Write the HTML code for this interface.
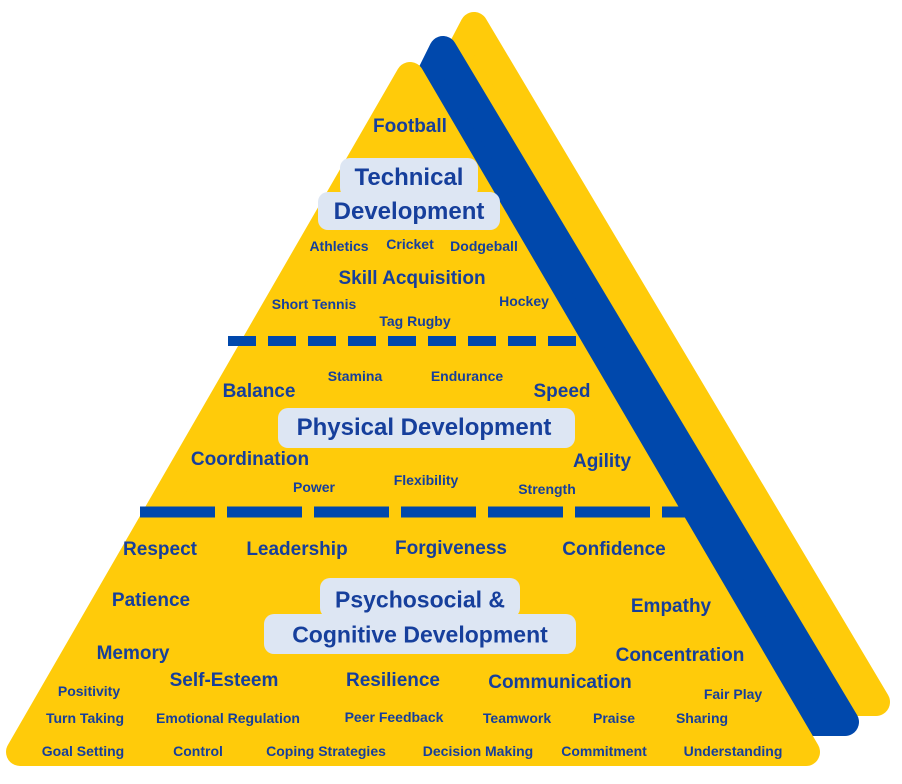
<!DOCTYPE html>
<html><head><meta charset="utf-8"><style>
body{margin:0;width:902px;height:784px;background:#fff;position:relative;overflow:hidden;font-family:"Liberation Sans",sans-serif}
.t{position:absolute;transform:translate(-50%,-50%);color:#163f9c;font-weight:bold;white-space:nowrap}
.s{font-size:14px}.m{font-size:19px}
.bg{position:absolute;background:#dde6f3;border-radius:10px}
.bt{position:absolute;transform:translate(-50%,-50%);color:#163f9c;font-weight:bold;white-space:nowrap;font-size:24px}
</style></head><body>
<svg width="902" height="784" style="position:absolute;left:0;top:0">
<polygon points="474,26 876,702 120,702" fill="#FFCB0A" stroke="#FFCB0A" stroke-width="28" stroke-linejoin="round"/>
<polygon points="443,50 845,722 110,722" fill="#0048AC" stroke="#0048AC" stroke-width="28" stroke-linejoin="round"/>
<polygon points="410,76 806,752 20,752" fill="#FFCB0A" stroke="#FFCB0A" stroke-width="28" stroke-linejoin="round"/>
<line x1="228" y1="341" x2="592" y2="341" stroke="#0048AC" stroke-width="10" stroke-dasharray="28,12"/>
<line x1="140" y1="512" x2="690" y2="512" stroke="#0048AC" stroke-width="11" stroke-dasharray="75,12"/>
</svg>
<div class="t m" style="left:410px;top:127px">Football</div>
<div class="bg" style="left:340px;top:158px;width:138px;height:40px"></div>
<div class="bg" style="left:318px;top:192px;width:182px;height:38px"></div>
<div class="bt" style="left:409px;top:178px">Technical</div>
<div class="bt" style="left:409px;top:212px">Development</div>
<div class="t s" style="left:339px;top:246px">Athletics</div>
<div class="t s" style="left:410px;top:244px">Cricket</div>
<div class="t s" style="left:484px;top:246px">Dodgeball</div>
<div class="t m" style="left:412px;top:279px">Skill Acquisition</div>
<div class="t s" style="left:314px;top:304px">Short Tennis</div>
<div class="t s" style="left:524px;top:301px">Hockey</div>
<div class="t s" style="left:415px;top:321px">Tag Rugby</div>
<div class="t m" style="left:259px;top:392px">Balance</div>
<div class="t s" style="left:355px;top:376px">Stamina</div>
<div class="t s" style="left:467px;top:376px">Endurance</div>
<div class="t m" style="left:562px;top:392px">Speed</div>
<div class="bg" style="left:278px;top:408px;width:297px;height:40px"></div>
<div class="bt" style="left:424px;top:428px">Physical Development</div>
<div class="t m" style="left:250px;top:460px">Coordination</div>
<div class="t m" style="left:602px;top:462px">Agility</div>
<div class="t s" style="left:314px;top:487px">Power</div>
<div class="t s" style="left:426px;top:480px">Flexibility</div>
<div class="t s" style="left:547px;top:489px">Strength</div>
<div class="t m" style="left:160px;top:550px">Respect</div>
<div class="t m" style="left:297px;top:550px">Leadership</div>
<div class="t m" style="left:451px;top:549px">Forgiveness</div>
<div class="t m" style="left:614px;top:550px">Confidence</div>
<div class="t m" style="left:151px;top:601px">Patience</div>
<div class="t m" style="left:671px;top:607px">Empathy</div>
<div class="bg" style="left:320px;top:578px;width:200px;height:40px"></div>
<div class="bg" style="left:264px;top:614px;width:312px;height:40px"></div>
<div class="bt" style="left:420px;top:600px;font-size:23px">Psychosocial &amp;</div>
<div class="bt" style="left:420px;top:635px;font-size:23px">Cognitive Development</div>
<div class="t m" style="left:133px;top:654px">Memory</div>
<div class="t m" style="left:680px;top:656px">Concentration</div>
<div class="t s" style="left:89px;top:691px">Positivity</div>
<div class="t m" style="left:224px;top:681px">Self-Esteem</div>
<div class="t m" style="left:393px;top:681px">Resilience</div>
<div class="t m" style="left:560px;top:683px">Communication</div>
<div class="t s" style="left:733px;top:694px">Fair Play</div>
<div class="t s" style="left:85px;top:718px">Turn Taking</div>
<div class="t s" style="left:228px;top:718px">Emotional Regulation</div>
<div class="t s" style="left:394px;top:717px">Peer Feedback</div>
<div class="t s" style="left:517px;top:718px">Teamwork</div>
<div class="t s" style="left:614px;top:718px">Praise</div>
<div class="t s" style="left:702px;top:718px">Sharing</div>
<div class="t s" style="left:83px;top:751px">Goal Setting</div>
<div class="t s" style="left:198px;top:751px">Control</div>
<div class="t s" style="left:326px;top:751px">Coping Strategies</div>
<div class="t s" style="left:478px;top:751px">Decision Making</div>
<div class="t s" style="left:604px;top:751px">Commitment</div>
<div class="t s" style="left:733px;top:751px">Understanding</div>
</body></html>
